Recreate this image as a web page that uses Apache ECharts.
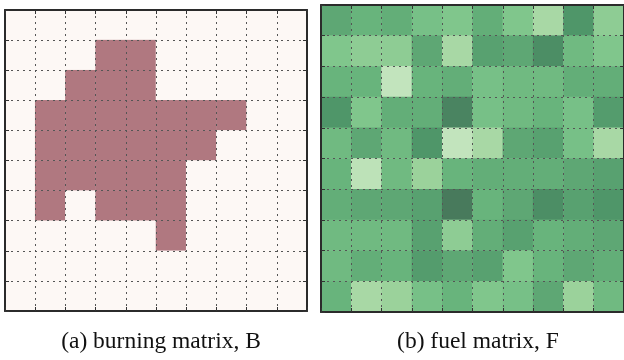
<!DOCTYPE html>
<html>
<head>
<meta charset="utf-8">
<script src="https://cdn.jsdelivr.net/npm/echarts@6/dist/echarts.min.js"></script>
<style>
  html, body { margin: 0; padding: 0; background: #fff; }
  #main { width: 624px; height: 360px; }
</style>
</head>
<body>
<div id="main"></div>
<script>
// grid index labels (10 x 10)
const cols = ['0', '1', '2', '3', '4', '5', '6', '7', '8', '9'];
const rows = ['0', '1', '2', '3', '4', '5', '6', '7', '8', '9'];

// burning matrix B, row 0 = top
const burning = [
  [0, 0, 0, 0, 0, 0, 0, 0, 0, 0],
  [0, 0, 0, 1, 1, 0, 0, 0, 0, 0],
  [0, 0, 1, 1, 1, 0, 0, 0, 0, 0],
  [0, 1, 1, 1, 1, 1, 1, 1, 0, 0],
  [0, 1, 1, 1, 1, 1, 1, 0, 0, 0],
  [0, 1, 1, 1, 1, 1, 0, 0, 0, 0],
  [0, 1, 0, 1, 1, 1, 0, 0, 0, 0],
  [0, 0, 0, 0, 0, 1, 0, 0, 0, 0],
  [0, 0, 0, 0, 0, 0, 0, 0, 0, 0],
  [0, 0, 0, 0, 0, 0, 0, 0, 0, 0]
];

// fuel matrix F (higher = darker green), row 0 = top
const fuel = [
  [6, 5, 5.5, 4, 3.5, 5.5, 3.5, 2, 7.5, 3],
  [3.5, 3, 3, 6, 2, 6.5, 6, 8, 4.5, 3.5],
  [5, 5, 1, 5, 5.5, 4, 4.5, 4.5, 5.5, 5.5],
  [7.5, 3.5, 5.5, 5.5, 8.5, 4, 4.5, 5, 4, 7],
  [4.5, 6, 4.5, 7.5, 1, 2, 6, 6.5, 4, 2],
  [5, 1.2, 4.5, 2.5, 5, 5.5, 5.5, 5.5, 6, 6.5],
  [5.5, 6, 6, 6.5, 9, 5, 6, 8, 6.5, 7.5],
  [4.5, 4.5, 4.5, 6.5, 3, 5.5, 6.5, 5, 5.5, 6],
  [4.5, 5.5, 5, 7, 6, 6.5, 3.5, 5, 6, 5.5],
  [5, 2, 2.5, 4, 5, 3.5, 4, 6, 2.5, 4.5]
];

const captions = ['(a) burning matrix, B', '(b) fuel matrix, F'];

function toCells(m) {
  let out = [];
  m.forEach((r, i) => r.forEach((v, j) => out.push([j, i, v])));
  return out;
}

const frame = { show: true, lineStyle: { color: '#2b2b2b', width: 2 } };
const ticks = { show: true, inside: true, length: 4, lineStyle: { color: '#333' } };
const dots = { show: true, lineStyle: { color: '#555', width: 1, type: [2, 4] } };

function axesX(gi) {
  return [
    { type: 'category', gridIndex: gi, data: cols, position: 'bottom', z: 5,
      axisLine: frame, axisTick: ticks, axisLabel: { show: false }, splitLine: dots },
    { type: 'category', gridIndex: gi, data: cols, position: 'top', z: 5,
      axisLine: frame, axisTick: ticks, axisLabel: { show: false }, splitLine: { show: false } }
  ];
}
function axesY(gi) {
  return [
    { type: 'category', gridIndex: gi, data: rows, inverse: true, position: 'left', z: 5,
      axisLine: frame, axisTick: ticks, axisLabel: { show: false }, splitLine: dots },
    { type: 'category', gridIndex: gi, data: rows, inverse: true, position: 'right', z: 5,
      axisLine: frame, axisTick: ticks, axisLabel: { show: false }, splitLine: { show: false } }
  ];
}

const capStyle = { fontFamily: 'Liberation Serif', fontWeight: 'normal', fontSize: 23.5, color: '#111' };

const chart = echarts.init(document.getElementById('main'));
chart.setOption({
  animation: false,
  backgroundColor: '#fff',
  grid: [
    { left: 5, top: 10, width: 302, height: 301 },
    { left: 321, top: 5, width: 304, height: 307 }
  ],
  xAxis: axesX(0).concat(axesX(1)),
  yAxis: axesY(0).concat(axesY(1)),
  visualMap: [
    { type: 'piecewise', show: false, seriesIndex: 0,
      pieces: [{ value: 0, color: '#fdf8f5' }, { value: 1, color: '#b07880' }] },
    { type: 'continuous', show: false, seriesIndex: 1, min: 1, max: 9,
      inRange: { color: ['#c2e4bd', '#9fd49d', '#7cc48a', '#68b47c', '#5aa371', '#4d9468', '#487a5c'] } }
  ],
  title: [
    { text: captions[0], left: 156, top: 325, textAlign: 'center', textStyle: capStyle },
    { text: captions[1], left: 473, top: 325, textAlign: 'center', textStyle: capStyle }
  ],
  series: [
    { type: 'heatmap', xAxisIndex: 0, yAxisIndex: 0, data: toCells(burning) },
    { type: 'heatmap', xAxisIndex: 2, yAxisIndex: 2, data: toCells(fuel) }
  ]
});
</script>
</body>
</html>
